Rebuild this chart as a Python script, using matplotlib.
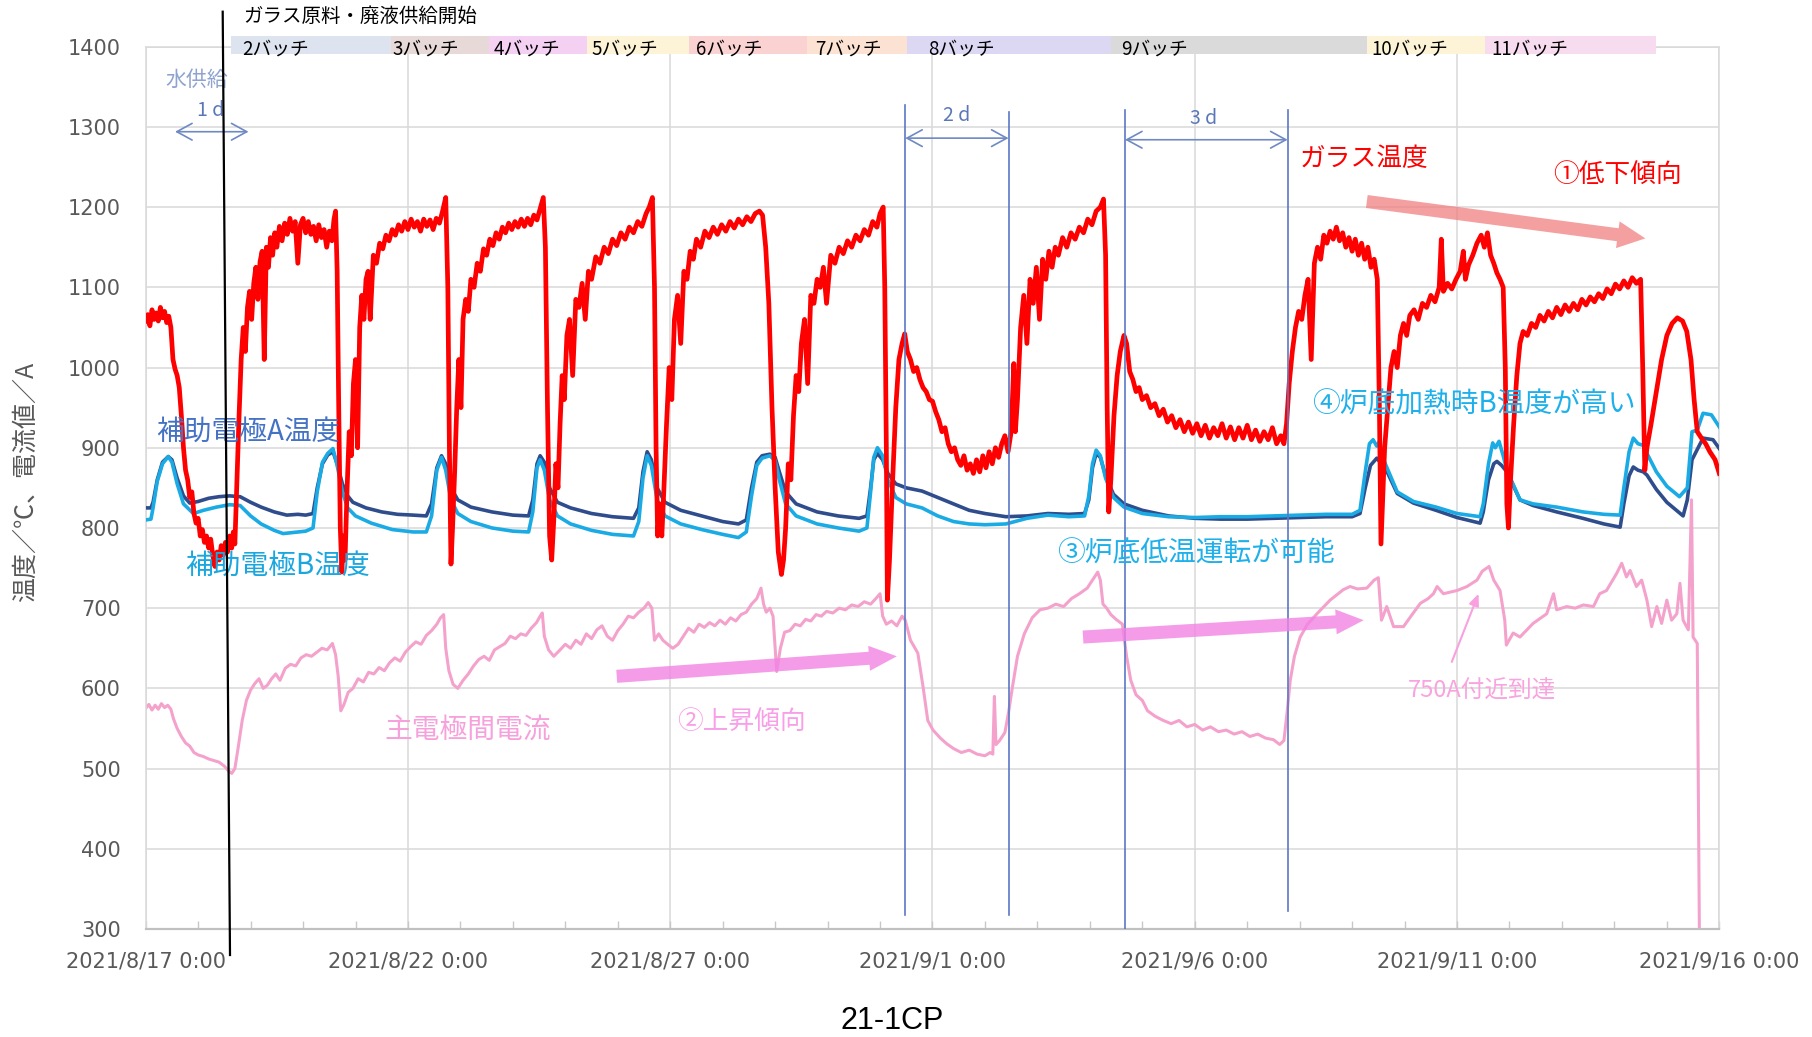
import matplotlib.pyplot as plt
from matplotlib.lines import Line2D
import matplotlib.transforms as mtransforms

plt.rcParams['font.family'] = ['Noto Sans CJK JP', 'DejaVu Sans']

# x axis: days since 2021/8/17 0:00
date_ticks = [0, 5, 10, 15, 20, 25, 30]
date_labels = ['2021/8/17 0:00', '2021/8/22 0:00', '2021/8/27 0:00', '2021/9/1 0:00',
               '2021/9/6 0:00', '2021/9/11 0:00', '2021/9/16 0:00']

# glass temperature (day, degC)
glass = [
    (0.00, 1058), (0.04, 1066), (0.08, 1052), (0.12, 1072), (0.16, 1060), (0.20, 1068),
    (0.24, 1058), (0.28, 1075), (0.32, 1062), (0.36, 1070), (0.40, 1056), (0.44, 1064),
    (0.48, 1050), (0.52, 1010), (0.56, 998), (0.60, 990), (0.64, 975), (0.68, 940),
    (0.72, 900), (0.76, 872), (0.80, 860), (0.84, 838), (0.88, 845), (0.92, 818),
    (0.96, 806), (1.00, 812), (1.04, 790), (1.08, 798), (1.12, 782), (1.16, 790),
    (1.20, 775), (1.24, 786), (1.28, 765), (1.32, 752), (1.36, 770), (1.40, 760),
    (1.44, 778), (1.48, 766), (1.52, 782), (1.56, 770), (1.60, 790), (1.64, 775),
    (1.67, 795), (1.70, 780), (1.74, 860), (1.78, 940), (1.82, 1010), (1.86, 1050),
    (1.90, 1020), (1.94, 1075), (1.98, 1095), (2.02, 1060), (2.06, 1105), (2.10, 1125),
    (2.14, 1085), (2.18, 1132), (2.22, 1145), (2.26, 1010), (2.30, 1150), (2.34, 1125),
    (2.38, 1162), (2.42, 1140), (2.46, 1168), (2.50, 1150), (2.55, 1176), (2.60, 1158),
    (2.65, 1180), (2.70, 1166), (2.75, 1186), (2.80, 1170), (2.85, 1182), (2.90, 1130),
    (2.95, 1178), (3.00, 1186), (3.05, 1168), (3.10, 1182), (3.15, 1166), (3.20, 1176),
    (3.25, 1158), (3.30, 1178), (3.35, 1162), (3.40, 1172), (3.45, 1150), (3.50, 1170),
    (3.55, 1158), (3.59, 1185), (3.62, 1195), (3.65, 1120), (3.68, 950), (3.71, 800),
    (3.74, 745), (3.77, 790), (3.80, 760), (3.84, 850), (3.88, 920), (3.92, 890),
    (3.96, 980), (4.00, 1010), (4.04, 900), (4.08, 1050), (4.12, 1090), (4.16, 1060),
    (4.20, 1110), (4.24, 1120), (4.28, 1060), (4.34, 1140), (4.40, 1130), (4.46, 1155),
    (4.52, 1148), (4.58, 1165), (4.64, 1158), (4.70, 1172), (4.76, 1165), (4.82, 1178),
    (4.88, 1170), (4.94, 1182), (5.00, 1172), (5.06, 1185), (5.12, 1175), (5.18, 1182),
    (5.24, 1170), (5.30, 1185), (5.36, 1176), (5.42, 1184), (5.48, 1172), (5.54, 1186),
    (5.60, 1180), (5.66, 1195), (5.72, 1212), (5.76, 1100), (5.79, 900), (5.82, 755),
    (5.85, 800), (5.89, 870), (5.93, 950), (5.97, 1010), (6.01, 950), (6.05, 1060),
    (6.10, 1085), (6.15, 1070), (6.20, 1110), (6.26, 1100), (6.32, 1130), (6.38, 1120),
    (6.44, 1148), (6.50, 1140), (6.56, 1160), (6.62, 1152), (6.68, 1168), (6.74, 1160),
    (6.80, 1175), (6.86, 1168), (6.92, 1180), (6.98, 1172), (7.04, 1182), (7.10, 1175),
    (7.16, 1185), (7.22, 1176), (7.28, 1186), (7.34, 1178), (7.40, 1190), (7.46, 1184),
    (7.52, 1198), (7.58, 1212), (7.62, 1150), (7.66, 950), (7.70, 790), (7.74, 760),
    (7.78, 810), (7.82, 880), (7.86, 850), (7.90, 930), (7.94, 990), (7.98, 960),
    (8.03, 1040), (8.08, 1060), (8.14, 990), (8.20, 1085), (8.26, 1075), (8.32, 1105),
    (8.38, 1060), (8.44, 1120), (8.50, 1110), (8.58, 1138), (8.66, 1130), (8.74, 1150),
    (8.82, 1142), (8.90, 1160), (8.98, 1152), (9.06, 1168), (9.14, 1160), (9.22, 1175),
    (9.30, 1168), (9.38, 1182), (9.46, 1176), (9.54, 1192), (9.60, 1200), (9.66, 1212),
    (9.70, 1100), (9.73, 900), (9.76, 790), (9.80, 830), (9.84, 790), (9.88, 850),
    (9.93, 930), (9.98, 1000), (10.03, 960), (10.08, 1060), (10.14, 1090), (10.20, 1030),
    (10.26, 1120), (10.32, 1110), (10.38, 1145), (10.44, 1135), (10.50, 1160), (10.58, 1150),
    (10.66, 1170), (10.74, 1162), (10.82, 1175), (10.90, 1166), (10.98, 1178), (11.06, 1170),
    (11.14, 1182), (11.22, 1174), (11.30, 1185), (11.38, 1178), (11.46, 1188), (11.54, 1182),
    (11.62, 1192), (11.70, 1195), (11.76, 1190), (11.82, 1150), (11.88, 1080), (11.94, 950),
    (12.00, 850), (12.06, 770), (12.12, 742), (12.16, 760), (12.20, 800), (12.25, 880),
    (12.30, 860), (12.35, 940), (12.40, 990), (12.45, 970), (12.50, 1030), (12.56, 1060),
    (12.62, 980), (12.68, 1090), (12.74, 1080), (12.80, 1110), (12.86, 1100), (12.92, 1125),
    (12.98, 1080), (13.06, 1140), (13.14, 1130), (13.22, 1150), (13.30, 1142), (13.38, 1158),
    (13.46, 1150), (13.54, 1165), (13.62, 1158), (13.70, 1172), (13.78, 1165), (13.86, 1182),
    (13.94, 1175), (14.00, 1192), (14.06, 1200), (14.09, 1100), (14.12, 900), (14.14, 710),
    (14.18, 760), (14.24, 860), (14.30, 950), (14.36, 1010), (14.42, 1030), (14.47, 1042),
    (14.52, 1020), (14.58, 1010), (14.64, 995), (14.70, 1000), (14.76, 985), (14.82, 975),
    (14.88, 970), (14.94, 960), (15.00, 958), (15.06, 945), (15.12, 935), (15.18, 920),
    (15.24, 925), (15.30, 905), (15.36, 895), (15.42, 900), (15.48, 885), (15.54, 878),
    (15.60, 890), (15.66, 872), (15.72, 880), (15.78, 868), (15.84, 885), (15.90, 870),
    (15.96, 890), (16.02, 875), (16.08, 895), (16.14, 880), (16.20, 900), (16.26, 888),
    (16.32, 905), (16.38, 915), (16.44, 895), (16.50, 920), (16.55, 1005), (16.58, 920),
    (16.62, 960), (16.68, 1050), (16.74, 1090), (16.80, 1030), (16.86, 1110), (16.92, 1080),
    (16.98, 1125), (17.04, 1060), (17.10, 1135), (17.16, 1110), (17.22, 1145), (17.28, 1125),
    (17.34, 1150), (17.40, 1140), (17.48, 1162), (17.56, 1150), (17.64, 1168), (17.72, 1160),
    (17.80, 1175), (17.88, 1168), (17.96, 1185), (18.04, 1178), (18.12, 1195), (18.20, 1200),
    (18.26, 1210), (18.30, 1140), (18.33, 950), (18.36, 820), (18.40, 860), (18.46, 940),
    (18.52, 990), (18.58, 1020), (18.65, 1040), (18.70, 1030), (18.76, 995), (18.82, 985),
    (18.88, 970), (18.94, 975), (19.00, 960), (19.08, 965), (19.16, 950), (19.24, 955),
    (19.32, 940), (19.40, 948), (19.48, 932), (19.56, 940), (19.64, 925), (19.72, 935),
    (19.80, 920), (19.88, 932), (19.96, 918), (20.04, 930), (20.12, 915), (20.20, 928),
    (20.28, 912), (20.36, 925), (20.44, 915), (20.52, 930), (20.60, 912), (20.68, 926),
    (20.76, 910), (20.84, 925), (20.92, 912), (21.00, 928), (21.08, 910), (21.16, 922),
    (21.24, 908), (21.32, 920), (21.40, 910), (21.48, 925), (21.56, 905), (21.64, 915),
    (21.70, 905), (21.75, 930), (21.80, 980), (21.86, 1020), (21.92, 1050), (21.98, 1070),
    (22.04, 1060), (22.10, 1090), (22.16, 1110), (22.22, 1010), (22.28, 1130), (22.34, 1150),
    (22.40, 1135), (22.46, 1165), (22.52, 1155), (22.58, 1170), (22.64, 1160), (22.70, 1175),
    (22.76, 1158), (22.82, 1168), (22.88, 1150), (22.94, 1162), (23.00, 1145), (23.06, 1160),
    (23.12, 1140), (23.18, 1155), (23.24, 1135), (23.30, 1150), (23.36, 1125), (23.42, 1135),
    (23.48, 1110), (23.52, 950), (23.55, 780), (23.58, 830), (23.62, 900), (23.68, 950),
    (23.74, 1000), (23.80, 1020), (23.86, 1000), (23.92, 1040), (23.98, 1055), (24.04, 1040),
    (24.10, 1065), (24.18, 1072), (24.26, 1060), (24.34, 1080), (24.42, 1075), (24.50, 1090),
    (24.58, 1082), (24.66, 1100), (24.70, 1160), (24.74, 1095), (24.82, 1105), (24.90, 1098),
    (24.98, 1110), (25.06, 1120), (25.12, 1145), (25.16, 1110), (25.22, 1128), (25.30, 1140),
    (25.38, 1155), (25.46, 1165), (25.52, 1150), (25.58, 1168), (25.64, 1140), (25.70, 1130),
    (25.76, 1118), (25.82, 1110), (25.88, 1100), (25.92, 1000), (25.95, 830), (25.98, 800),
    (26.02, 860), (26.08, 930), (26.14, 990), (26.20, 1030), (26.26, 1045), (26.34, 1040),
    (26.42, 1055), (26.50, 1050), (26.58, 1065), (26.66, 1058), (26.74, 1070), (26.82, 1062),
    (26.90, 1075), (26.98, 1066), (27.06, 1078), (27.14, 1070), (27.22, 1080), (27.30, 1072),
    (27.38, 1085), (27.46, 1078), (27.54, 1088), (27.62, 1082), (27.70, 1092), (27.78, 1086),
    (27.86, 1098), (27.94, 1092), (28.02, 1104), (28.10, 1098), (28.18, 1108), (28.26, 1100),
    (28.34, 1112), (28.42, 1105), (28.50, 1110), (28.54, 1000), (28.58, 872), (28.62, 900),
    (28.70, 930), (28.80, 970), (28.90, 1010), (29.00, 1040), (29.10, 1055), (29.20, 1062),
    (29.30, 1058), (29.38, 1045), (29.46, 1010), (29.52, 960), (29.58, 920), (29.66, 912),
    (29.74, 905), (29.82, 895), (29.92, 885), (30.00, 868),
]

# auxiliary electrode A temperature
elec_a = [
    (0.00, 825), (0.10, 825), (0.14, 832), (0.22, 860), (0.32, 882), (0.43, 889), (0.50, 885),
    (0.60, 862), (0.72, 840), (0.84, 831), (1.00, 833), (1.20, 837), (1.40, 839), (1.60, 840),
    (1.80, 839), (2.00, 832), (2.20, 826), (2.45, 820), (2.69, 816), (2.90, 817), (3.05, 816),
    (3.19, 818), (3.27, 850), (3.37, 880), (3.47, 891), (3.57, 895), (3.65, 880), (3.75, 855),
    (3.85, 840), (3.95, 832), (4.20, 825), (4.50, 820), (4.80, 817), (5.10, 816), (5.35, 815),
    (5.45, 830), (5.55, 875), (5.64, 890), (5.72, 880), (5.82, 850), (5.95, 835), (6.20, 826),
    (6.60, 820), (7.00, 816), (7.30, 815), (7.38, 835), (7.46, 880), (7.52, 890), (7.60, 882),
    (7.70, 850), (7.85, 832), (8.10, 825), (8.50, 818), (8.90, 814), (9.30, 812), (9.40, 825),
    (9.48, 870), (9.56, 895), (9.64, 885), (9.75, 850), (9.90, 832), (10.20, 822), (10.60, 815),
    (11.00, 808), (11.30, 805), (11.45, 810), (11.55, 850), (11.65, 882), (11.75, 890),
    (11.90, 892), (12.00, 888), (12.08, 870), (12.20, 845), (12.40, 830), (12.80, 820),
    (13.20, 815), (13.60, 812), (13.75, 815), (13.82, 850), (13.88, 885), (13.95, 893),
    (14.05, 885), (14.15, 868), (14.30, 855), (14.50, 850), (14.80, 846), (15.10, 838),
    (15.40, 830), (15.70, 822), (16.00, 818), (16.40, 814), (16.80, 815), (17.20, 818),
    (17.60, 817), (17.90, 818), (17.98, 835), (18.05, 875), (18.12, 893), (18.20, 888),
    (18.30, 865), (18.45, 842), (18.65, 830), (19.00, 822), (19.50, 815), (20.00, 812),
    (20.50, 811), (21.00, 811), (21.50, 812), (22.00, 813), (22.50, 814), (23.00, 814),
    (23.15, 818), (23.25, 850), (23.35, 878), (23.47, 887), (23.56, 880), (23.66, 871),
    (23.86, 843), (24.17, 831), (24.60, 822), (25.00, 813), (25.44, 806), (25.50, 820),
    (25.60, 860), (25.70, 880), (25.76, 883), (25.85, 878), (25.95, 870), (26.20, 835),
    (26.45, 828), (26.90, 820), (27.40, 812), (27.80, 805), (28.11, 801), (28.18, 830),
    (28.28, 865), (28.36, 876), (28.45, 872), (28.55, 870), (28.62, 866), (28.80, 848),
    (29.00, 832), (29.31, 815), (29.39, 835), (29.48, 885), (29.58, 898), (29.69, 912),
    (29.88, 910), (30.00, 899),
]

# auxiliary electrode B temperature
elec_b = [
    (0.00, 810), (0.10, 811), (0.14, 825), (0.22, 858), (0.32, 880), (0.43, 889), (0.50, 882),
    (0.60, 855), (0.72, 830), (0.91, 818), (1.10, 822), (1.35, 826), (1.60, 829), (1.80, 828),
    (2.00, 815), (2.20, 805), (2.45, 797), (2.62, 793), (2.90, 795), (3.05, 796), (3.19, 800),
    (3.27, 845), (3.37, 882), (3.47, 893), (3.57, 899), (3.65, 878), (3.75, 845), (3.85, 825),
    (4.00, 815), (4.30, 806), (4.70, 798), (5.10, 795), (5.35, 795), (5.45, 815), (5.55, 872),
    (5.64, 888), (5.72, 872), (5.82, 835), (5.95, 818), (6.20, 808), (6.60, 800), (7.00, 796),
    (7.30, 795), (7.38, 820), (7.46, 875), (7.52, 885), (7.60, 872), (7.70, 835), (7.85, 815),
    (8.10, 805), (8.50, 797), (8.90, 792), (9.30, 790), (9.40, 808), (9.48, 862), (9.56, 890),
    (9.64, 878), (9.75, 835), (9.90, 815), (10.20, 805), (10.60, 798), (11.00, 792),
    (11.30, 788), (11.45, 795), (11.55, 840), (11.65, 878), (11.75, 887), (11.90, 890),
    (12.00, 884), (12.08, 860), (12.20, 830), (12.40, 815), (12.80, 805), (13.20, 800),
    (13.60, 796), (13.75, 800), (13.82, 845), (13.88, 888), (13.95, 900), (14.05, 890),
    (14.15, 860), (14.30, 838), (14.50, 830), (14.80, 825), (15.10, 815), (15.40, 808),
    (15.70, 805), (16.00, 804), (16.40, 805), (16.80, 812), (17.20, 816), (17.60, 814),
    (17.90, 815), (17.98, 840), (18.05, 880), (18.12, 897), (18.20, 890), (18.30, 862),
    (18.45, 838), (18.65, 826), (19.00, 818), (19.50, 814), (20.00, 813), (20.50, 814),
    (21.00, 814), (21.50, 815), (22.00, 816), (22.50, 817), (23.00, 817), (23.15, 822),
    (23.25, 870), (23.33, 905), (23.40, 910), (23.47, 902), (23.52, 908), (23.60, 885),
    (23.86, 845), (24.17, 833), (24.60, 826), (25.00, 818), (25.44, 814), (25.50, 830),
    (25.60, 880), (25.68, 906), (25.73, 900), (25.80, 908), (25.88, 890), (25.95, 872),
    (26.20, 835), (26.45, 830), (26.90, 826), (27.40, 820), (27.80, 817), (28.11, 816),
    (28.18, 850), (28.28, 895), (28.36, 912), (28.45, 905), (28.55, 903), (28.62, 893),
    (28.80, 870), (29.00, 852), (29.24, 839), (29.39, 850), (29.48, 920), (29.58, 922),
    (29.69, 943), (29.85, 941), (30.00, 926),
]

# main electrode current (A)
current = [
    (0.00, 575), (0.06, 580), (0.12, 573), (0.18, 579), (0.24, 574), (0.30, 581), (0.36, 576),
    (0.42, 579), (0.48, 574), (0.53, 562), (0.60, 550), (0.68, 540), (0.76, 532), (0.84, 528),
    (0.92, 520), (1.00, 517), (1.10, 515), (1.20, 512), (1.30, 510), (1.40, 508), (1.50, 503),
    (1.58, 497), (1.64, 494), (1.70, 500), (1.76, 525), (1.84, 560), (1.92, 585), (2.00, 598),
    (2.08, 606), (2.16, 612), (2.24, 600), (2.32, 604), (2.40, 612), (2.48, 618), (2.56, 610),
    (2.66, 625), (2.76, 630), (2.86, 628), (2.96, 638), (3.06, 642), (3.16, 640), (3.26, 645),
    (3.36, 650), (3.46, 648), (3.56, 656), (3.62, 642), (3.67, 615), (3.72, 572), (3.78, 580),
    (3.86, 595), (3.95, 600), (4.05, 612), (4.15, 608), (4.25, 620), (4.35, 618), (4.45, 626),
    (4.55, 622), (4.65, 632), (4.75, 638), (4.85, 634), (4.95, 645), (5.05, 652), (5.15, 658),
    (5.25, 655), (5.35, 666), (5.45, 672), (5.55, 680), (5.62, 688), (5.68, 692), (5.72, 650),
    (5.78, 622), (5.86, 605), (5.95, 600), (6.05, 610), (6.15, 618), (6.25, 628), (6.35, 636),
    (6.45, 640), (6.55, 635), (6.65, 648), (6.75, 652), (6.85, 656), (6.95, 665), (7.05, 662),
    (7.15, 668), (7.25, 666), (7.35, 675), (7.45, 682), (7.52, 690), (7.56, 694), (7.60, 665),
    (7.68, 648), (7.78, 640), (7.90, 648), (8.00, 655), (8.10, 650), (8.20, 660), (8.30, 655),
    (8.40, 668), (8.50, 662), (8.60, 673), (8.70, 678), (8.80, 665), (8.90, 660), (9.00, 672),
    (9.10, 680), (9.20, 690), (9.30, 688), (9.40, 695), (9.50, 700), (9.58, 707), (9.65, 700),
    (9.70, 660), (9.78, 668), (9.86, 660), (9.95, 655), (10.05, 650), (10.15, 655), (10.25, 665),
    (10.35, 675), (10.45, 670), (10.55, 680), (10.65, 676), (10.75, 682), (10.85, 678),
    (10.95, 685), (11.05, 680), (11.15, 688), (11.25, 684), (11.35, 692), (11.45, 695),
    (11.55, 705), (11.65, 712), (11.73, 725), (11.78, 705), (11.83, 695), (11.90, 700),
    (11.96, 690), (12.03, 621), (12.10, 650), (12.18, 670), (12.28, 672), (12.38, 680),
    (12.48, 678), (12.58, 686), (12.68, 684), (12.78, 692), (12.88, 690), (12.98, 696),
    (13.10, 694), (13.22, 700), (13.34, 698), (13.46, 704), (13.58, 702), (13.70, 708),
    (13.82, 705), (13.92, 712), (14.00, 718), (14.05, 690), (14.12, 680), (14.22, 684),
    (14.32, 678), (14.42, 690), (14.48, 685), (14.58, 660), (14.72, 644), (14.82, 602),
    (14.91, 560), (15.01, 548), (15.15, 538), (15.27, 531), (15.40, 525), (15.55, 520),
    (15.70, 523), (15.85, 518), (16.00, 516), (16.10, 520), (16.15, 518), (16.18, 590),
    (16.21, 530), (16.28, 535), (16.38, 545), (16.45, 570), (16.52, 600), (16.62, 640),
    (16.75, 668), (16.90, 688), (17.05, 698), (17.20, 700), (17.35, 705), (17.50, 702),
    (17.65, 712), (17.80, 718), (17.95, 725), (18.05, 735), (18.15, 745), (18.20, 735),
    (18.25, 705), (18.32, 700), (18.40, 692), (18.50, 686), (18.62, 680), (18.70, 640),
    (18.78, 610), (18.88, 592), (19.00, 585), (19.10, 572), (19.25, 565), (19.40, 560),
    (19.55, 556), (19.70, 560), (19.85, 552), (20.00, 555), (20.15, 548), (20.30, 552),
    (20.45, 546), (20.60, 548), (20.75, 543), (20.90, 546), (21.05, 540), (21.20, 543),
    (21.35, 538), (21.50, 536), (21.62, 530), (21.70, 535), (21.76, 570), (21.82, 610),
    (21.90, 640), (22.01, 664), (22.15, 680), (22.33, 693), (22.58, 710), (22.83, 723),
    (22.96, 727), (23.10, 724), (23.28, 725), (23.42, 735), (23.50, 738), (23.56, 685),
    (23.66, 702), (23.79, 677), (23.98, 677), (24.11, 689), (24.30, 706), (24.45, 712),
    (24.55, 718), (24.62, 727), (24.74, 718), (24.87, 720), (25.00, 722), (25.19, 727),
    (25.38, 735), (25.48, 746), (25.61, 752), (25.70, 735), (25.82, 722), (25.91, 685),
    (25.94, 654), (26.07, 669), (26.20, 664), (26.45, 681), (26.71, 693), (26.84, 718),
    (26.90, 698), (27.09, 702), (27.25, 700), (27.41, 704), (27.60, 702), (27.72, 718),
    (27.85, 722), (28.04, 743), (28.14, 756), (28.23, 739), (28.30, 747), (28.42, 727),
    (28.52, 735), (28.62, 710), (28.71, 677), (28.81, 702), (28.90, 681), (29.00, 710),
    (29.09, 685), (29.19, 693), (29.25, 731), (29.31, 685), (29.41, 673), (29.47, 835),
    (29.50, 664), (29.58, 656), (29.62, 300), (29.63, 0), (30.00, 0),
]

# batch periods (days)
batch_names = ['2バッチ', '3バッチ', '4バッチ', '5バッチ', '6バッチ', '7バッチ',
               '8バッチ', '9バッチ', '10バッチ', '11バッチ']
batch_start = [1.62, 4.68, 6.54, 8.41, 10.36, 12.60, 14.52, 18.40, 23.28, 25.54]
batch_end = [4.68, 6.54, 8.41, 10.36, 12.60, 14.52, 18.40, 23.28, 25.54, 28.79]
batch_label_x = [1.84, 4.71, 6.64, 8.49, 10.49, 12.76, 14.91, 18.59, 23.36, 25.65]
batch_colors = ['#dde4ef', '#e7d9d7', '#f4d0f2', '#fdf3d6', '#fbd2d2', '#fbe2d2',
                '#dcd7f3', '#dadada', '#fdf3d6', '#f7dbef']

W, H = 1812, 1037
fig = plt.figure(figsize=(W / 100, H / 100), dpi=100)
ax = fig.add_axes([145.7 / W, 1 - 929 / H, (1719.3 - 145.7) / W, (929 - 46.7) / H])

ax.set_xlim(0, 30)
ax.set_ylim(300, 1400)
ax.set_yticks(range(300, 1401, 100))
ax.set_xticks(date_ticks)
ax.set_xticklabels(date_labels)
ax.set_xticks(range(31), minor=True)
ax.set_axisbelow(True)
ax.grid(True, which='major', color='#d9d9d9', lw=1.1)
ax.tick_params(axis='x', which='both', direction='in', length=6, color='#c8c8c8', width=1)
ax.tick_params(axis='x', which='major', pad=16, labelsize=15, labelcolor='#595959')
ax.tick_params(axis='y', length=0, pad=18, labelsize=15, labelcolor='#595959')
for lab in ax.get_xticklabels() + ax.get_yticklabels():
    lab.set_family('DejaVu Sans')
for s in ax.spines.values():
    s.set_color('#d9d9d9')
    s.set_linewidth(1.1)
ax.spines['bottom'].set_color('#c0c0c0')
ax.spines['bottom'].set_linewidth(1.6)

d, v = zip(*current)
ax.plot(d, v, color='#f4a2cc', lw=2.2, zorder=2)
d, v = zip(*elec_a)
ax.plot(d, v, color='#2f4d8c', lw=2.6, zorder=3)
d, v = zip(*elec_b)
ax.plot(d, v, color='#1aabe4', lw=2.6, zorder=4)
d, v = zip(*glass)
ax.plot(d, v, color='#ff0000', lw=3.4, zorder=5)

# batch band on top
trans = mtransforms.blended_transform_factory(ax.transData, ax.transAxes)
for name, x0, x1, lx, c in zip(batch_names, batch_start, batch_end, batch_label_x, batch_colors):
    ax.axvspan(x0, x1, ymin=0.9917, ymax=1.0121, color=c, lw=0, clip_on=False, zorder=6)
    ax.text(lx, 0.9974, name, transform=trans, fontsize=13.5, va='center', ha='left',
            color='black', zorder=7, clip_on=False)

# day span markers
span_col = '#5b78c4'
for x, y0, y1 in [(14.48, 1327, 317), (16.45, 1319, 317), (18.67, 1321, 300), (21.77, 1321, 322)]:
    ax.plot([x, x], [y0, y1], color=span_col, lw=1.2, zorder=6)
for x0, x1, y, label, tx, ty in [(0.56, 1.96, 1294, '1 d', 1.23, 1321),
                                 (14.48, 16.45, 1286, '2 d', 15.46, 1314),
                                 (18.67, 21.77, 1284, '3 d', 20.16, 1311)]:
    ax.annotate('', xy=(x1, y), xytext=(x0, y),
                arrowprops=dict(arrowstyle='<->,head_length=1.1,head_width=0.6', color='#6f89c3',
                                lw=1.2, mutation_scale=10, shrinkA=0, shrinkB=0), zorder=6)
    ax.text(tx, ty, label, color='#5a78b8', fontsize=14, ha='center', va='center', zorder=6)
ax.text(0.97, 1358, '水供給', color='#8ea3cf', fontsize=15, ha='center', va='center')

# series labels
ax.text(0.20, 920, '補助電極A温度', color='#4472c4', fontsize=20, va='center', zorder=8)
ax.text(0.75, 753, '補助電極B温度', color='#1aa7e0', fontsize=20, va='center', zorder=8)
ax.text(4.56, 548, '主電極間電流', color='#f7a1dc', fontsize=20, va='center', zorder=8)
ax.text(22.0, 1260, 'ガラス温度', color='#ff0000', fontsize=18.5, va='center', zorder=8)
ax.text(26.83, 1240, '①低下傾向', color='#ff0000', fontsize=18.5, va='center', zorder=8)
ax.text(22.23, 954, '④炉底加熱時B温度が高い', color='#1eb0ea', fontsize=20, va='center', zorder=8)
ax.text(17.38, 768, '③炉底低温運転が可能', color='#1eb0ea', fontsize=20, va='center', zorder=8)
ax.text(10.13, 557, '②上昇傾向', color='#f7a0e8', fontsize=18.5, va='center', zorder=8)
ax.text(24.07, 597, '750A付近到達', color='#f9a3df', fontsize=17, va='center', zorder=8)

# trend arrows
ax.annotate('', xy=(28.59, 1161), xytext=(23.28, 1207),
            arrowprops=dict(arrowstyle='simple,head_length=1.0,head_width=0.97,tail_width=0.47',
                            fc='#f28080', ec='none', alpha=0.75, mutation_scale=20,
                            shrinkA=0, shrinkB=0), zorder=7)
for tail, tip in [((8.98, 615), (14.32, 640)), ((17.87, 664), (23.22, 685))]:
    ax.annotate('', xy=tip, xytext=tail,
                arrowprops=dict(arrowstyle='simple,head_length=1.0,head_width=0.9,tail_width=0.47',
                                fc='#f383e4', ec='none', alpha=0.8, mutation_scale=20,
                                shrinkA=0, shrinkB=0), zorder=7)
ax.annotate('', xy=(25.41, 718), xytext=(24.9, 633),
            arrowprops=dict(arrowstyle='-|>,head_length=0.7,head_width=0.3', color='#f9a0e0',
                            lw=1.5, mutation_scale=10, shrinkA=0, shrinkB=0), zorder=7)

# feed start line and figure texts
fig.add_artist(Line2D([222.7 / W, 230 / W], [1 - 11.7 / H, 1 - 955 / H], color='black', lw=1.6))
fig.text(243 / W, 1 - 16 / H, 'ガラス原料・廃液供給開始', fontsize=14, va='center', ha='left')
fig.text(25.5 / W, 1 - 482 / H, '温度／℃、電流値／A', rotation=90, fontsize=18,
         color='#595959', ha='center', va='center')
fig.text(892 / W, 1 - 1021 / H, '21-1CP', fontsize=22, ha='center', va='center',
         family='Liberation Sans')

fig.savefig('out.png', dpi=100)
